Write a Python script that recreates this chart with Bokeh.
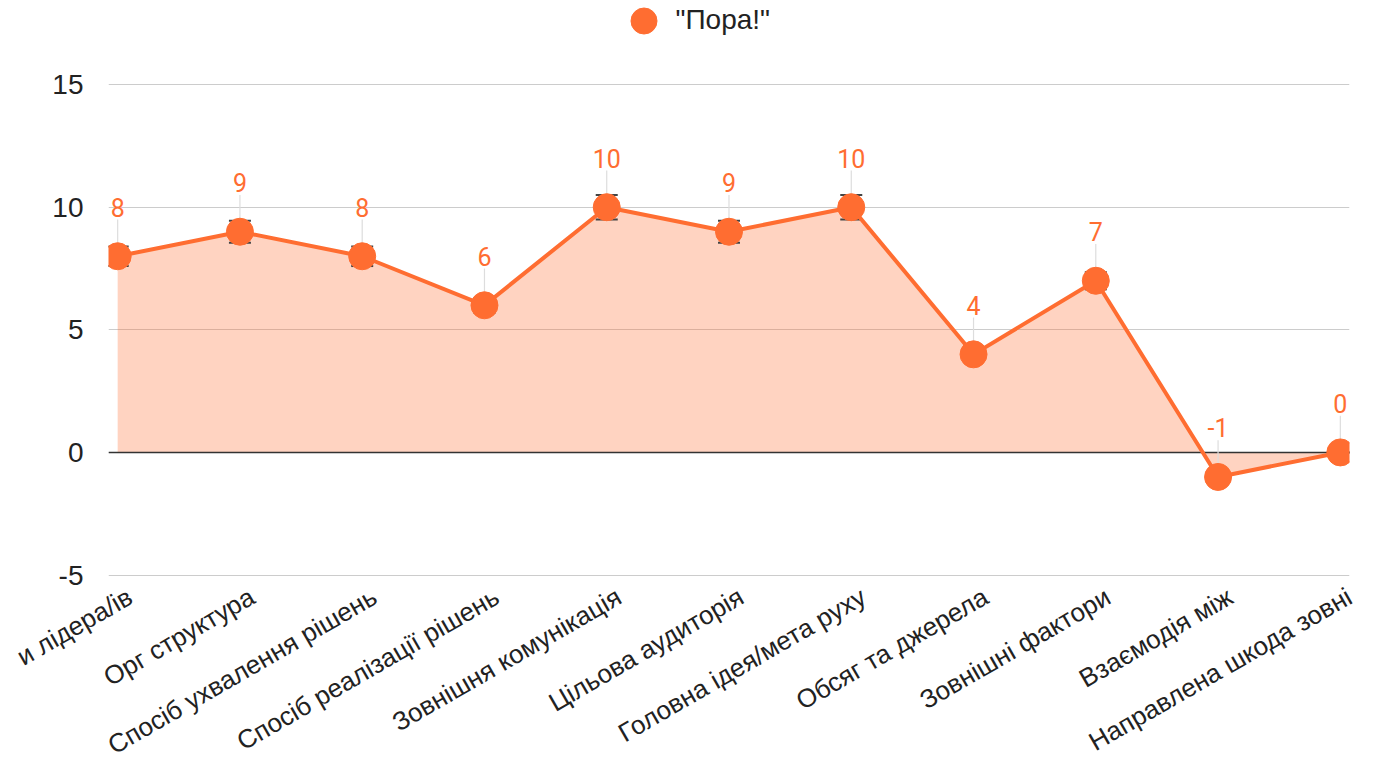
import math
from bokeh.plotting import figure
from bokeh.models import (Range1d, LinearAxis, FixedTicker, ColumnDataSource,
                          LabelSet, Legend, LegendItem)
from bokeh.core.properties import value
from bokeh.embed import file_html
from bokeh.resources import INLINE

# ---- data ----
categories = ["и лідера/ів", "Орг структура", "Спосіб ухвалення рішень",
              "Спосіб реалізації рішень", "Зовнішня комунікація", "Цільова аудиторія",
              "Головна ідея/мета руху", "Обсяг та джерела", "Зовнішні фактори",
              "Взаємодія між", "Направлена шкода зовні"]
values = [8, 9, 8, 6, 10, 9, 10, 4, 7, -1, 0]
errors = [0.4, 0.45, 0.4, 0.3, 0.5, 0.45, 0.5, 0.2, 0.35, 0.05, 0.0]
series_name = '"Пора!"'
y_ticks = [-5, 0, 5, 10, 15]
y_min, y_max = -5, 15

ORANGE = "#ff6d31"
AXIS_FONT = "Liberation Sans"

x = list(range(len(categories)))
src = ColumnDataSource(dict(
    x=x, y=values,
    lo=[v - e for v, e in zip(values, errors)],
    hi=[v + e for v, e in zip(values, errors)],
    lead=[v + 1.5 for v in values],
    lbl=[str(v) for v in values],
))

pad = 0.075       # small room so the edge data labels stay readable
headroom = 3.43   # empty space above the top gridline, holds the legend
footroom = 0.06   # keeps the bottom gridline visible inside the frame
p = figure(width=1376, height=776, output_backend="svg", toolbar_location=None,
           x_range=Range1d(x[0] - pad, x[-1] + pad),
           y_range=Range1d(y_min - footroom, y_max + headroom),
           x_axis_location=None,
           min_border_left=108, min_border_right=27, min_border_top=0, min_border_bottom=195)
p.outline_line_color = None
p.background_fill_color = "white"
p.border_fill_color = "white"
p.xgrid.visible = False

# x axis (labels end slightly right of their category positions, like the original)
shift = 0.1
p.extra_x_ranges = {"labels": Range1d(x[0] - pad - shift, x[-1] + pad - shift)}
tick_pos = x[:-1] + [x[-1] + pad - shift]
overrides = {t: c for t, c in zip(tick_pos, categories)}
xaxis = LinearAxis(x_range_name="labels", ticker=FixedTicker(ticks=tick_pos),
                   major_label_overrides=overrides,
                   major_label_orientation=math.pi / 6,
                   major_label_standoff=18,
                   major_label_text_font=AXIS_FONT,
                   major_label_text_font_size="26px",
                   major_label_text_color="#222222",
                   axis_line_color=None, major_tick_line_color=None,
                   minor_tick_line_color=None, major_tick_out=0, major_tick_in=0)
p.add_layout(xaxis, "below")

# y axis
p.yaxis.ticker = FixedTicker(ticks=y_ticks)
p.yaxis.major_label_overrides = {t: str(t) for t in y_ticks}
p.yaxis.axis_line_color = None
p.yaxis.major_tick_line_color = None
p.yaxis.minor_tick_line_color = None
p.yaxis.major_tick_out = 0
p.yaxis.major_tick_in = 0
p.yaxis.major_label_standoff = 25
p.yaxis.major_label_text_font = AXIS_FONT
p.yaxis.major_label_text_font_size = "28px"
p.yaxis.major_label_text_color = "#222222"
p.ygrid.grid_line_color = "#cccccc"
p.ygrid.grid_line_width = 1.2

# area
p.varea(x="x", y1=0, y2="y", source=src, fill_color=ORANGE, fill_alpha=0.3)
# zero baseline
p.hspan(y=[0], line_color="#333333", line_width=1.5)
# leader lines for data labels
p.segment(x0="x", y0="y", x1="x", y1="lead", source=src, line_color="#dddddd", line_width=1.2)
# error bars
p.segment(x0="x", y0="lo", x1="x", y1="hi", source=src, line_color="#444444", line_width=1.5)
p.scatter(x="x", y="hi", source=src, marker="dash", size=22, line_color="#444444", line_width=2)
p.scatter(x="x", y="lo", source=src, marker="dash", size=22, line_color="#444444", line_width=2)
# line and points
p.line(x="x", y="y", source=src, line_color=ORANGE, line_width=4)
pts = p.scatter(x="x", y="y", source=src, size=27, fill_color=ORANGE, line_color=ORANGE)

# data labels
p.add_layout(LabelSet(x="x", y="y", text="lbl", source=src, y_offset=49,
                      text_align="center", text_baseline="middle",
                      text_font=value("Roboto"), text_font_size="25px",
                      text_color=ORANGE))

legend = Legend(items=[LegendItem(label=series_name, renderers=[pts])],
                location=(502.5, 523.5), orientation="horizontal",
                glyph_width=65, glyph_height=65, label_standoff=0,
                padding=0, margin=0, spacing=0,
                border_line_color=None, background_fill_alpha=0,
                label_text_font=AXIS_FONT, label_text_font_size="28px",
                label_text_color="#222222")
p.add_layout(legend)

open("out.html", "w").write(file_html(p, INLINE))
